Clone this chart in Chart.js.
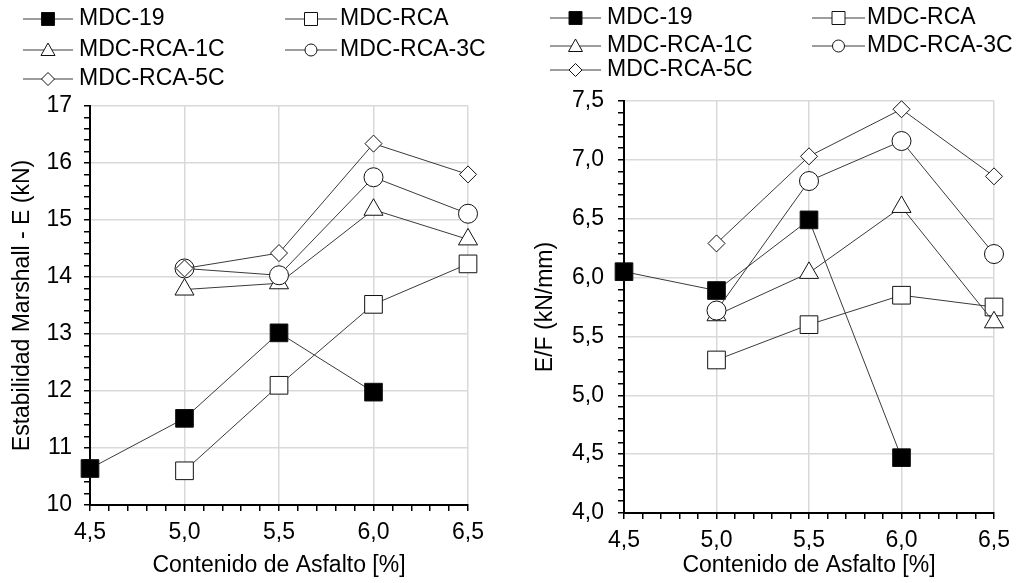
<!DOCTYPE html>
<html>
<head>
<meta charset="utf-8">
<script src="https://cdn.jsdelivr.net/npm/chart.js@4.4.1/dist/chart.umd.min.js"></script>
<style>
    body { margin: 0; background: #fff; }
    #wrap { position: relative; width: 1026px; height: 583px; }
    .box { position: absolute; top: 0; width: 513px; height: 583px; }
</style>
</head>
<body>
<div id="wrap">
    <div class="box" style="left:0"><canvas id="stab-chart" width="513" height="583"></canvas></div>
    <div class="box" style="left:513px"><canvas id="ratio-chart" width="513" height="583"></canvas></div>
</div>
<script>
// asphalt content, shared x values
const asphalt = [4.5, 5.0, 5.5, 6.0, 6.5];
const seriesNames = ["MDC-19", "MDC-RCA", "MDC-RCA-1C", "MDC-RCA-3C", "MDC-RCA-5C"];

// Marshall stability E (kN)
const stabMDC19 = [10.64, 11.52, 13.02, 11.98, null];
const stabRCA   = [null, 10.60, 12.10, 13.52, 14.23];
const stabRCA1C = [null, 13.78, 13.89, 15.18, 14.66];
const stabRCA3C = [null, 14.15, 14.03, 15.75, 15.11];
const stabRCA5C = [null, 14.15, 14.42, 16.34, 15.80];

// E/F ratio (kN/mm)
const ratioMDC19 = [6.05, 5.89, 6.49, 4.47, null];
const ratioRCA   = [null, 5.30, 5.60, 5.85, 5.75];
const ratioRCA1C = [null, 5.68, 6.04, 6.60, 5.62];
const ratioRCA3C = [null, 5.72, 6.82, 7.16, 6.20];
const ratioRCA5C = [null, 6.29, 7.03, 7.43, 6.86];

// labelled (major) ticks
const xTicks = [4.5, 5.0, 5.5, 6.0, 6.5];
const stabTicks = [10, 11, 12, 13, 14, 15, 16, 17];
const ratioTicks = [4.0, 4.5, 5.0, 5.5, 6.0, 6.5, 7.0, 7.5];

Chart.defaults.font.family = '"Liberation Sans", Arial, sans-serif';
Chart.defaults.color = '#000';

// marker look for each series
const markers = [
    { style: 'rect', radius: 12.5, fill: '#000' },
    { style: 'rect', radius: 12.5, fill: '#fff' },
    { style: 'triangle', radius: 11, fill: '#fff' },
    { style: 'circle', radius: 9.5, fill: '#fff' },
    { style: 'rectRot', radius: 8.5, fill: '#fff' }
];

const isMajor = (v, list) => list.some(t => Math.abs(t - v) < 1e-6);
const comma = (v) => v.toFixed(1).replace('.', ',');

function buildDatasets(seriesList) {
    return seriesList.map((values, i) => ({
        label: seriesNames[i],
        data: asphalt.map((x, j) => ({ x: x, y: values[j] })),
        borderColor: '#3a3a3a',
        borderWidth: 1,
        pointStyle: markers[i].style,
        pointRadius: markers[i].radius,
        pointBackgroundColor: markers[i].fill,
        pointBorderColor: '#111',
        pointBorderWidth: 1,
        order: 5 - i,   // last series on top
        clip: false,    // markers on the axes are not cut
        fill: false,
        tension: 0
    }));
}

// small legend marker, drawn by hand
function drawMarker(ctx, style, x, y, fill) {
    ctx.beginPath();
    if (style === 'rect') {
        ctx.rect(x - 6.5, y - 6.5, 13, 13);
    } else if (style === 'triangle') {
        ctx.moveTo(x, y - 7);
        ctx.lineTo(x + 7, y + 5.5);
        ctx.lineTo(x - 7, y + 5.5);
        ctx.closePath();
    } else if (style === 'circle') {
        ctx.arc(x, y, 6, 0, Math.PI * 2);
    } else {
        ctx.moveTo(x, y - 6.5);
        ctx.lineTo(x + 6.5, y);
        ctx.lineTo(x, y + 6.5);
        ctx.lineTo(x - 6.5, y);
        ctx.closePath();
    }
    ctx.fillStyle = fill;
    ctx.fill();
    ctx.strokeStyle = '#111';
    ctx.lineWidth = 1;
    ctx.stroke();
}

// legend "—□— name" drawn in the top padding
const lineLegend = {
    id: 'lineLegend',
    afterDraw(chart, args, opts) {
        const ctx = chart.ctx;
        ctx.save();
        ctx.font = '23px "Liberation Sans", Arial, sans-serif';
        ctx.textBaseline = 'middle';
        chart.data.datasets.forEach((ds, i) => {
            const col = opts.cols[i % 2];
            const y = opts.rows[Math.floor(i / 2)];
            ctx.strokeStyle = '#3a3a3a';
            ctx.lineWidth = 1;
            ctx.beginPath();
            ctx.moveTo(col.x0, y);
            ctx.lineTo(col.x1, y);
            ctx.stroke();
            drawMarker(ctx, ds.pointStyle, (col.x0 + col.x1) / 2, y, ds.pointBackgroundColor);
            ctx.fillStyle = '#000';
            ctx.fillText(ds.label, col.tx, y);
        });
        ctx.restore();
    }
};

function buildOptions(cfg) {
    return {
        responsive: false,
        animation: false,
        layout: { padding: cfg.padding },
        scales: {
            x: {
                type: 'linear',
                min: 4.5,
                max: 6.5,
                afterFit: (s) => { s.height = cfg.xHeight; },
                ticks: {
                    stepSize: 0.1,
                    autoSkip: false,
                    maxRotation: 0,
                    minRotation: 0,
                    padding: 8,
                    font: { size: 23 },
                    callback: (v) => isMajor(v, xTicks) ? comma(v) : ''
                },
                grid: {
                    color: (c) => (c.tick && isMajor(c.tick.value, xTicks)) ? '#d9d9d9' : 'rgba(0,0,0,0)',
                    lineWidth: 1.5,
                    tickColor: '#000',
                    tickLength: 6,
                    tickWidth: 1.5
                },
                border: { color: '#000', width: 2 },
                title: {
                    display: true,
                    text: 'Contenido de Asfalto [%]',
                    font: { size: 23 },
                    padding: { top: 0, bottom: 4 }
                }
            },
            y: {
                type: 'linear',
                min: cfg.yMin,
                max: cfg.yMax,
                afterFit: (s) => { s.width = cfg.yWidth; },
                ticks: {
                    stepSize: cfg.yStep,
                    autoSkip: false,
                    padding: cfg.yPad,
                    font: { size: 23 },
                    callback: (v) => isMajor(v, cfg.yTicks) ? cfg.yFmt(v) : ''
                },
                grid: {
                    color: (c) => (c.tick && isMajor(c.tick.value, cfg.yTicks)) ? '#d9d9d9' : 'rgba(0,0,0,0)',
                    lineWidth: 1.5,
                    tickColor: '#000',
                    tickLength: 6,
                    tickWidth: 1.5
                },
                border: { color: '#000', width: 2 },
                title: {
                    display: true,
                    text: cfg.yTitle,
                    font: { size: 23 },
                    padding: { top: cfg.yTitlePad, bottom: 0 }
                }
            }
        },
        plugins: {
            legend: { display: false },
            tooltip: { enabled: false },
            lineLegend: cfg.legend
        }
    };
}

// left chart: Marshall stability
let stabChart = new Chart(document.getElementById("stab-chart"), {
    type: 'line',
    data: { datasets: buildDatasets([stabMDC19, stabRCA, stabRCA1C, stabRCA3C, stabRCA5C]) },
    options: buildOptions({
        padding: { left: 0, right: 45, top: 106, bottom: 0 },
        xHeight: 78,
        yWidth: 90,
        yMin: 10, yMax: 17, yStep: 0.2, yTicks: stabTicks,
        yFmt: (v) => String(Math.round(v)),
        yPad: 12,
        yTitle: 'Estabilidad Marshall - E (kN)',
        yTitlePad: 9,
        legend: {
            cols: [{ x0: 23, x1: 73, tx: 79 }, { x0: 285, x1: 337, tx: 340 }],
            rows: [19, 50, 79]
        }
    }),
    plugins: [lineLegend]
});

// right chart: E/F
let ratioChart = new Chart(document.getElementById("ratio-chart"), {
    type: 'line',
    data: { datasets: buildDatasets([ratioMDC19, ratioRCA, ratioRCA1C, ratioRCA3C, ratioRCA5C]) },
    options: buildOptions({
        padding: { left: 0, right: 32, top: 101, bottom: 0 },
        xHeight: 70,
        yWidth: 111,
        yMin: 4, yMax: 7.5, yStep: 0.1, yTicks: ratioTicks,
        yFmt: comma,
        yPad: 14,
        yTitle: 'E/F (kN/mm)',
        yTitlePad: 19,
        legend: {
            cols: [{ x0: 37, x1: 88, tx: 94 }, { x0: 299, x1: 352, tx: 354 }],
            rows: [18, 46, 70]
        }
    }),
    plugins: [lineLegend]
});
</script>
</body>
</html>
